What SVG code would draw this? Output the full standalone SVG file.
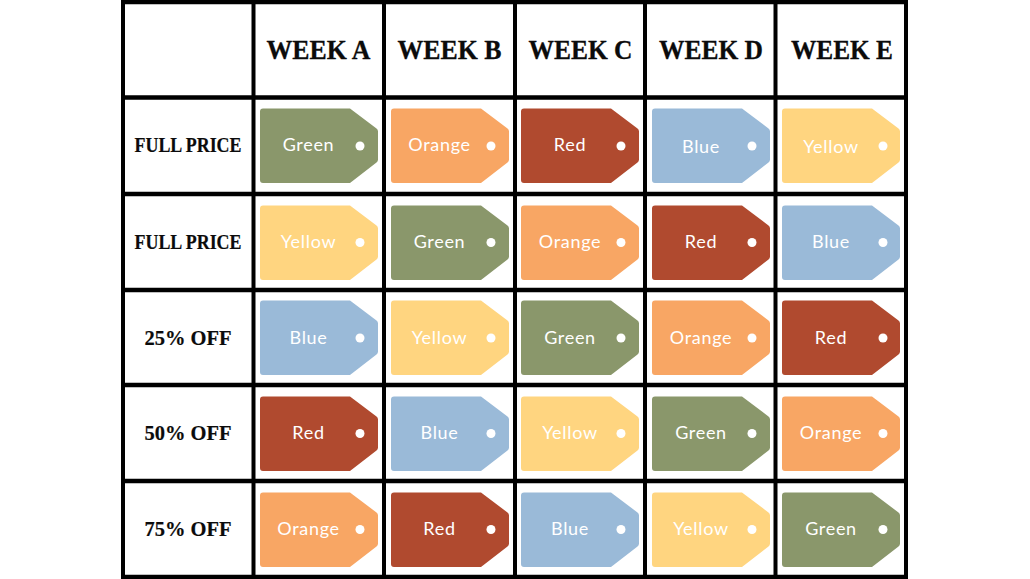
<svg xmlns="http://www.w3.org/2000/svg" xmlns:xlink="http://www.w3.org/1999/xlink" width="1030" height="579" viewBox="0 0 1030 579">
<style>
.h{font:bold 27px "Liberation Serif",serif;fill:#0b0b0b;stroke:#0b0b0b;stroke-width:.3px;text-anchor:middle}
.r{font:bold 20px "Liberation Serif",serif;fill:#0b0b0b;stroke:#0b0b0b;stroke-width:.2px;text-anchor:middle}
.t{font:18px "Lato",sans-serif;fill:#fff;text-anchor:middle;letter-spacing:.7px}
.g{fill:#8a976b}.o{fill:#f8a664}.d{fill:#b04a2f}.b{fill:#9abad8}.y{fill:#ffd580}
.l{stroke:#000;fill:none}
</style>
<defs>
<path id="tag" d="M3 .5H90L116.500 20.500Q118 21.500 118 23.500V51.500Q118 53.500 116.500 54.500L90 75H3Q0 75 0 72V3.500Q0 .5 3 .5Z"/>
</defs>
<rect width="1030" height="579" fill="#fff"/>
<g id="grid" class="l">
<path stroke-width="4" d="M123 0V579M253.500 0V579M384 0V579M515 0V579M645 0V579M775.500 0V579M906 0V579"/>
<path stroke-width="4.500" d="M121 2H908M121 97.500H908M121 194H908M121 290H908M121 385H908M121 481H908M121 577H908"/>
</g>
<g id="headers">
<text class="h" x="318.500" y="59" textLength="104" lengthAdjust="spacingAndGlyphs">WEEK A</text>
<text class="h" x="449.500" y="59" textLength="104" lengthAdjust="spacingAndGlyphs">WEEK B</text>
<text class="h" x="580.500" y="59" textLength="104" lengthAdjust="spacingAndGlyphs">WEEK C</text>
<text class="h" x="711" y="59" textLength="104" lengthAdjust="spacingAndGlyphs">WEEK D</text>
<text class="h" x="842" y="59" textLength="102" lengthAdjust="spacingAndGlyphs">WEEK E</text>
<text class="r" x="188" y="152" textLength="107" lengthAdjust="spacingAndGlyphs">FULL PRICE</text>
<text class="r" x="188" y="249" textLength="107" lengthAdjust="spacingAndGlyphs">FULL PRICE</text>
<text class="r" x="188" y="345" textLength="87" lengthAdjust="spacingAndGlyphs">25% OFF</text>
<text class="r" x="188" y="440" textLength="87" lengthAdjust="spacingAndGlyphs">50% OFF</text>
<text class="r" x="188" y="536" textLength="87" lengthAdjust="spacingAndGlyphs">75% OFF</text>
</g>
<g id="tag-a1"><use href="#tag" x="260" y="108" class="g"/><circle cx="360" cy="146" r="4.500" fill="#fff"/><text class="t" x="308.500" y="151">Green</text></g>
<g id="tag-b1"><use href="#tag" x="391" y="108" class="o"/><circle cx="491" cy="146" r="4.500" fill="#fff"/><text class="t" x="439.500" y="151">Orange</text></g>
<g id="tag-c1"><use href="#tag" x="521" y="108" class="d"/><circle cx="621" cy="146" r="4.500" fill="#fff"/><text class="t" x="570" y="151">Red</text></g>
<g id="tag-d1"><use href="#tag" x="652" y="108" class="b"/><circle cx="752" cy="146" r="4.500" fill="#fff"/><text class="t" x="701" y="153">Blue</text></g>
<g id="tag-e1"><use href="#tag" x="782" y="108" class="y"/><circle cx="883" cy="146" r="4.500" fill="#fff"/><text class="t" x="831" y="153">Yellow</text></g>
<g id="tag-a2"><use href="#tag" x="260" y="205" class="y"/><circle cx="360" cy="242.500" r="4.500" fill="#fff"/><text class="t" x="308.500" y="248">Yellow</text></g>
<g id="tag-b2"><use href="#tag" x="391" y="205" class="g"/><circle cx="491" cy="242.500" r="4.500" fill="#fff"/><text class="t" x="439.500" y="248">Green</text></g>
<g id="tag-c2"><use href="#tag" x="521" y="205" class="o"/><circle cx="621" cy="242.500" r="4.500" fill="#fff"/><text class="t" x="570" y="248">Orange</text></g>
<g id="tag-d2"><use href="#tag" x="652" y="205" class="d"/><circle cx="752" cy="242.500" r="4.500" fill="#fff"/><text class="t" x="701" y="248">Red</text></g>
<g id="tag-e2"><use href="#tag" x="782" y="205" class="b"/><circle cx="883" cy="242.500" r="4.500" fill="#fff"/><text class="t" x="831" y="248">Blue</text></g>
<g id="tag-a3"><use href="#tag" x="260" y="300" class="b"/><circle cx="360" cy="338" r="4.500" fill="#fff"/><text class="t" x="308.500" y="344">Blue</text></g>
<g id="tag-b3"><use href="#tag" x="391" y="300" class="y"/><circle cx="491" cy="338" r="4.500" fill="#fff"/><text class="t" x="439.500" y="344">Yellow</text></g>
<g id="tag-c3"><use href="#tag" x="521" y="300" class="g"/><circle cx="621" cy="338" r="4.500" fill="#fff"/><text class="t" x="570" y="344">Green</text></g>
<g id="tag-d3"><use href="#tag" x="652" y="300" class="o"/><circle cx="752" cy="338" r="4.500" fill="#fff"/><text class="t" x="701" y="344">Orange</text></g>
<g id="tag-e3"><use href="#tag" x="782" y="300" class="d"/><circle cx="883" cy="338" r="4.500" fill="#fff"/><text class="t" x="831" y="344">Red</text></g>
<g id="tag-a4"><use href="#tag" x="260" y="396" class="d"/><circle cx="360" cy="433.500" r="4.500" fill="#fff"/><text class="t" x="308.500" y="439">Red</text></g>
<g id="tag-b4"><use href="#tag" x="391" y="396" class="b"/><circle cx="491" cy="433.500" r="4.500" fill="#fff"/><text class="t" x="439.500" y="439">Blue</text></g>
<g id="tag-c4"><use href="#tag" x="521" y="396" class="y"/><circle cx="621" cy="433.500" r="4.500" fill="#fff"/><text class="t" x="570" y="439">Yellow</text></g>
<g id="tag-d4"><use href="#tag" x="652" y="396" class="g"/><circle cx="752" cy="433.500" r="4.500" fill="#fff"/><text class="t" x="701" y="439">Green</text></g>
<g id="tag-e4"><use href="#tag" x="782" y="396" class="o"/><circle cx="883" cy="433.500" r="4.500" fill="#fff"/><text class="t" x="831" y="439">Orange</text></g>
<g id="tag-a5"><use href="#tag" x="260" y="492" class="o"/><circle cx="360" cy="529.500" r="4.500" fill="#fff"/><text class="t" x="308.500" y="535">Orange</text></g>
<g id="tag-b5"><use href="#tag" x="391" y="492" class="d"/><circle cx="491" cy="529.500" r="4.500" fill="#fff"/><text class="t" x="439.500" y="535">Red</text></g>
<g id="tag-c5"><use href="#tag" x="521" y="492" class="b"/><circle cx="621" cy="529.500" r="4.500" fill="#fff"/><text class="t" x="570" y="535">Blue</text></g>
<g id="tag-d5"><use href="#tag" x="652" y="492" class="y"/><circle cx="752" cy="529.500" r="4.500" fill="#fff"/><text class="t" x="701" y="535">Yellow</text></g>
<g id="tag-e5"><use href="#tag" x="782" y="492" class="g"/><circle cx="883" cy="529.500" r="4.500" fill="#fff"/><text class="t" x="831" y="535">Green</text></g>
</svg>
